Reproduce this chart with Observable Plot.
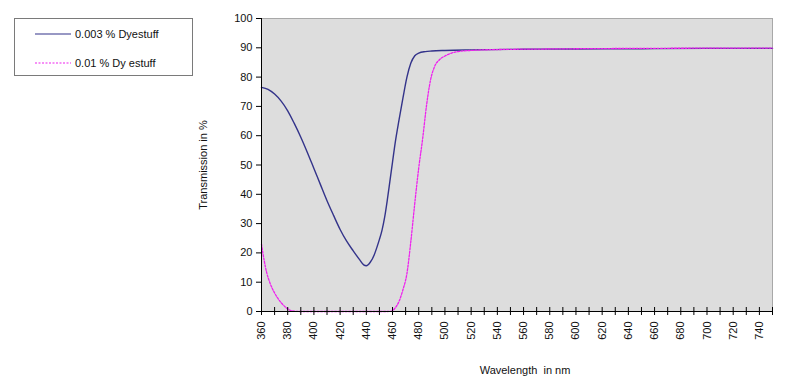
<!DOCTYPE html>
<html>
<head>
<meta charset="utf-8">
<script src="https://cdn.jsdelivr.net/npm/d3@7"></script>
<script src="https://cdn.jsdelivr.net/npm/@observablehq/plot@0.6"></script>
<style>
  body { margin: 0; background: #fff; font-family: "Liberation Sans", Arial, sans-serif; }
  #wrap { position: relative; width: 800px; height: 390px; }
  #legend { position: absolute; left: 14px; top: 18px; width: 177px; height: 56px; border: 1px solid #7a7a7a; background: #fff; font-size: 11px; color: #111; }
  .row { position: absolute; left: 0; height: 14px; display: flex; align-items: center; }
  .row svg { margin-left: 20px; margin-right: 4px; }
</style>
</head>
<body>
<div id="wrap"><div id="chart"></div><div id="legend"></div></div>
<script>
const seriesNames = ["0.003 % Dyestuff", "0.01 % Dy estuff"];
const seriesColors = ["#33338a", "#ee22ee"];
const xTitle = "Wavelength\u00a0 in nm";
const yTitle = "Transmission in %";

const wl003 = [360,365,370,375,380,385,390,395,400,405,410,415,420,425,430,435,438,440,443,446,448,450,452,454,456,458,460,462,465,468,471,474,477,480,485,490,500,520,560,600,650,700,750];
const tr003 = [76.5,75.8,74.2,71.8,68.5,64.2,59.5,54.3,48.8,43.3,37.8,32.8,28.0,24.0,20.7,17.6,15.9,15.6,16.8,19.3,21.8,24.6,27.8,32.2,38.0,44.5,51.0,57.5,65.5,73.0,80.0,84.8,87.3,88.2,88.7,88.9,89.1,89.3,89.5,89.6,89.7,89.8,89.8];

const wl001 = [360,362,364,366,368,370,372,375,378,381,385,390,400,420,440,455,459,462,465,468,471,474,477,480,483,486,489,492,496,500,505,510,520,540,580,650,750];
const tr001 = [23.0,17.5,13.2,10.3,8.1,6.3,4.8,3.0,1.6,0.6,0.1,0,0,0,0,0,0.1,1.2,3.5,7.5,13.0,24.0,37.0,49.0,59.0,70.5,79.0,83.5,86.0,87.2,88.2,88.7,89.1,89.4,89.6,89.8,89.9];

const xMinorTicks = [360,370,380,390,400,410,420,430,440,450,460,470,480,490,500,510,520,530,540,550,560,570,580,590,600,610,620,630,640,650,660,670,680,690,700,710,720,730,740,750];
const xLabelTicks = [360,380,400,420,440,460,480,500,520,540,560,580,600,620,640,660,680,700,720,740];
const yTicks = [0,10,20,30,40,50,60,70,80,90,100];

const d003 = wl003.map((w, i) => ({w, t: tr003[i]}));
const d001 = wl001.map((w, i) => ({w, t: tr001[i]}));

const chart = Plot.plot({
  width: 800,
  height: 390,
  marginLeft: 261,
  marginRight: 28,
  marginTop: 18,
  marginBottom: 79,
  style: { fontFamily: "Liberation Sans, Arial, sans-serif", fontSize: "11px", color: "#111", background: "transparent" },
  x: { domain: [360, 750] },
  y: { domain: [0, 100] },
  marks: [
    Plot.frame({ fill: "#dddddd", stroke: "#a8a8a8" }),
    Plot.line(d003, { x: "w", y: "t", stroke: seriesColors[0], strokeWidth: 1.4, curve: "monotone-x" }),
    Plot.line(d001, { x: "w", y: "t", stroke: seriesColors[1], strokeWidth: 1.3, strokeDasharray: "2,1.5", curve: "monotone-x" }),
    Plot.ruleX([360], { stroke: "#000" }),
    Plot.ruleY([0], { stroke: "#000" }),
    Plot.axisY({ ticks: yTicks, tickSize: 5, tickPadding: 4, stroke: "#000", label: null, fontSize: 11 }),
    Plot.axisX({ ticks: xMinorTicks, tickSize: 4, text: null, stroke: "#000", label: null }),
    Plot.axisX({ ticks: xMinorTicks, tickSize: -4, text: null, stroke: "#000", label: null }),
    Plot.axisX({ ticks: xLabelTicks, tickSize: 0, tickPadding: 10, tickRotate: -90, fontSize: 11, label: null }),
    Plot.text([yTitle], { frameAnchor: "left", textAnchor: "middle", dx: -58, rotate: -90, fontSize: 11, fill: "#111" }),
    Plot.text([xTitle], { frameAnchor: "bottom", dy: 62, dx: 8, fontSize: 11, fill: "#111" })
  ]
});
document.getElementById("chart").appendChild(chart);

const legend = document.getElementById("legend");
const rowTops = [8, 37];
seriesNames.forEach((name, i) => {
  const row = document.createElement("div");
  row.className = "row";
  row.style.top = rowTops[i] + "px";
  const dash = i === 1 ? ' stroke-dasharray="2,1.5"' : '';
  row.innerHTML = `<svg width="36" height="4"><line x1="0" y1="2" x2="36" y2="2" stroke="${seriesColors[i]}" stroke-width="1.2"${dash}/></svg><span>${name}</span>`;
  legend.appendChild(row);
});
</script>
</body>
</html>
